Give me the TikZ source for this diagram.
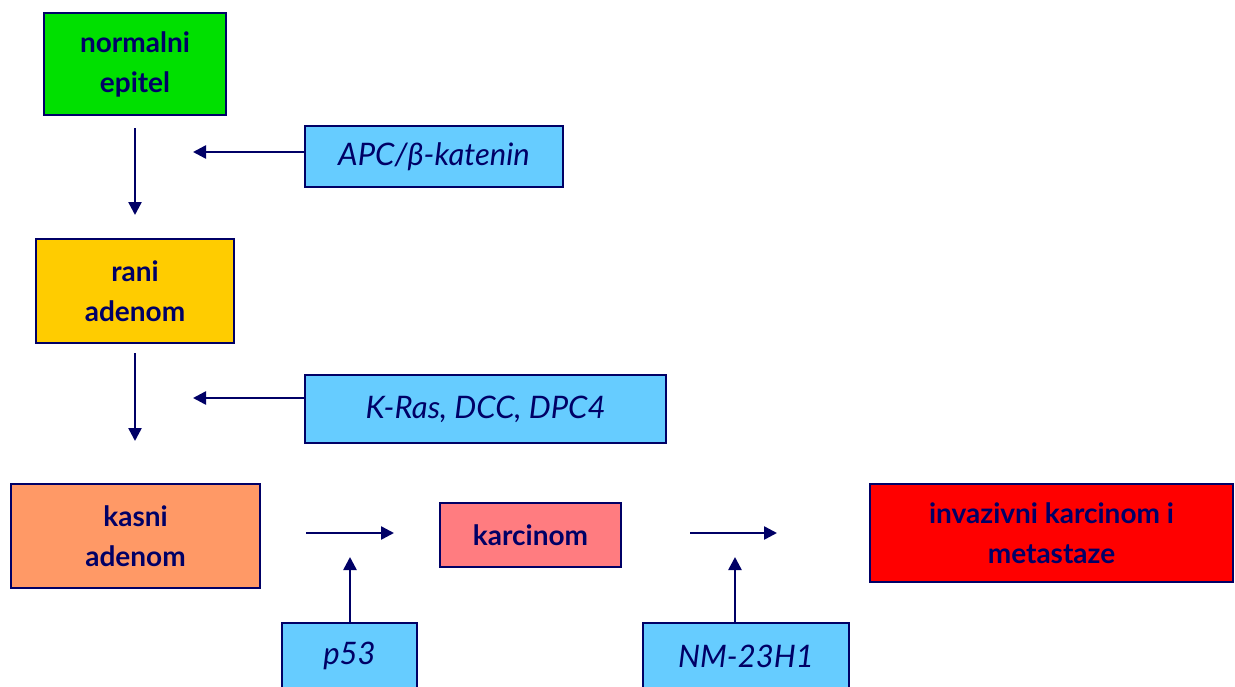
\documentclass[tikz,border=0pt]{standalone}
\usepackage{fontspec}
\setmainfont{Lato}
\usetikzlibrary{arrows.meta}
\definecolor{navy}{HTML}{000066}
\definecolor{stgreen}{HTML}{00E000}
\definecolor{styellow}{HTML}{FFCC00}
\definecolor{storange}{HTML}{FF9966}
\definecolor{stpink}{HTML}{FF7C80}
\definecolor{stred}{HTML}{FF0000}
\definecolor{geneblue}{HTML}{66CCFF}
\tikzset{
	stage/.style={draw=navy, line width=2pt, text=navy, align=center, inner sep=0pt,
		font=\bfseries\fontsize{28}{40}\selectfont},
	gene/.style={draw=navy, line width=2pt, fill=geneblue, text=navy, inner sep=0pt,
		font=\itshape\fontsize{31}{34}\selectfont},
	arr/.style={navy, line width=2.5pt, -{Triangle[length=13pt,width=13pt]}}
}
\begin{document}
\begin{tikzpicture}[x=1pt, y=-1pt]
		\useasboundingbox (0,0) rectangle (1235,686);
		\clip (0,0) rectangle (1235,686);
		%stages
		\node[stage, fill=stgreen, minimum width=182, minimum height=102] (normal) at (135,64) {normalni\\epitel};
		\node[stage, fill=styellow, minimum width=198, minimum height=104] (rani) at (135,291) {rani\\adenom};
		\node[stage, fill=storange, minimum width=249, minimum height=104] (kasni) at (135.5,536) {kasni\\adenom};
		\node[stage, fill=stpink, minimum width=181, minimum height=64] (karc) at (530.5,535) {karcinom};
		\node[stage, fill=stred, minimum width=363, minimum height=98] (invaz) at (1051.5,533) {invazivni karcinom i\\metastaze};
		%genes
		\node[gene, minimum width=258, minimum height=61] (apc) at (434,156.5) {APC/β-katenin};
		\node[gene, minimum width=361, minimum height=68] (kras) at (485.5,409) {K-Ras, DCC, DPC4};
		\node[gene, minimum width=135, minimum height=66] (p53) at (349.5,656) {p53};
		\node[gene, minimum width=206, minimum height=66] (nm) at (746,656) {NM-23H1};
		%arrows
		\coordinate (apcend) at (193,152);
		\coordinate (krasend) at (193,398);
		\coordinate (p53end) at (350,557);
		\coordinate (nmend) at (735,557);
		\draw[arr, shorten <=12pt, shorten >=23pt] (normal) -- (rani);
		\draw[arr, shorten <=9pt, shorten >=42pt] (rani) -- (kasni.north -| rani);
		\draw[arr] (apc.west |- apcend) -- (apcend);
		\draw[arr] (kras.west |- krasend) -- (krasend);
		\draw[arr, shorten <=45pt, shorten >=45pt] (kasni.east |- invaz) -- (karc.west |- invaz);
		\draw[arr, shorten <=68pt, shorten >=92pt] (karc.east |- invaz) -- (invaz.west);
		\draw[arr] (p53.north -| p53end) -- (p53end);
		\draw[arr] (nm.north -| nmend) -- (nmend);
\end{tikzpicture}
\end{document}
